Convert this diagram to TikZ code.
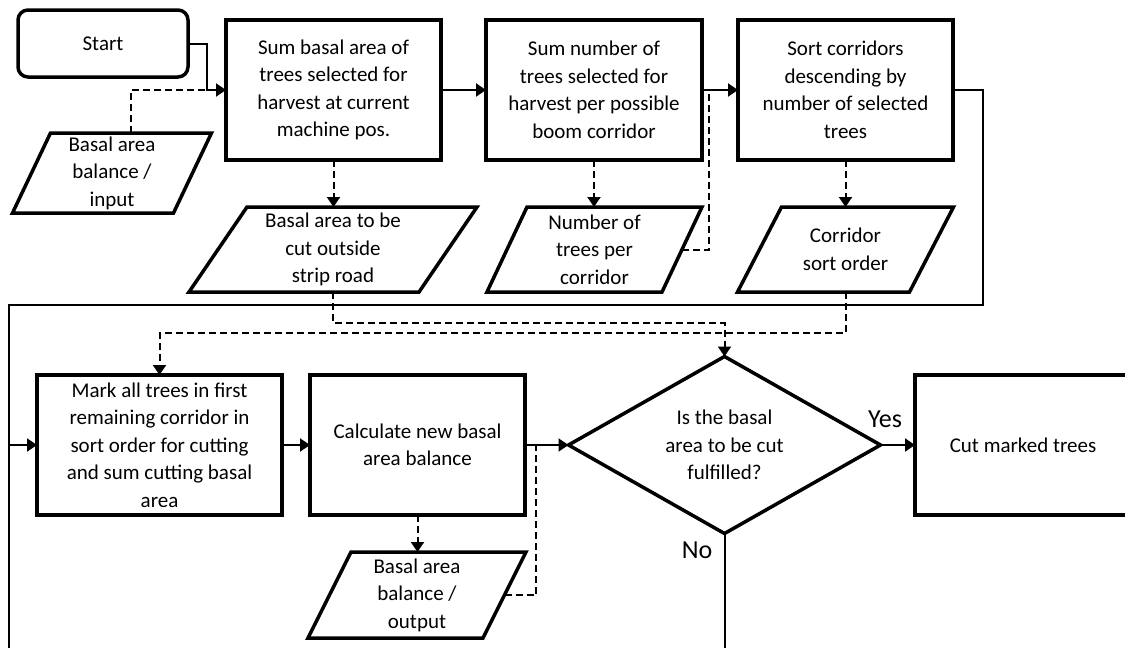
\documentclass[tikz,border=0pt]{standalone}
\usepackage{fontspec}
\setmainfont{Carlito}
\usetikzlibrary{arrows.meta,shapes.geometric,calc}
\newcommand\paraframe[2]{\draw[paraline] ($(#1.south west)+(-#2,0)$) -- ($(#1.south east)+(-#2,0)$) -- ($(#1.north east)+(#2,0)$) -- ($(#1.north west)+(#2,0)$) -- cycle;}
\begin{document}
\begin{tikzpicture}[x=1pt,y=-1pt,
  every node/.style={font=\fontsize{21}{27.5}\selectfont, align=center, inner sep=0pt, outer sep=0pt},
  box/.style={draw, line width=3.5pt, minimum width=215pt, minimum height=140pt},
  startbox/.style={draw, line width=3.5pt, rounded corners=10pt, minimum width=170pt, minimum height=67pt},
  decbox/.style={draw, diamond, line width=3.5pt, minimum width=312pt, minimum height=177pt, aspect=1.76},
  paraline/.style={line width=3.5pt, line join=miter},
  conn/.style={line width=2pt},
  dconn/.style={line width=2pt, dash pattern=on 7pt off 4pt},
  tip/.style={-{Triangle[length=10pt,width=13pt]}},
  lbl/.style={font=\fontsize{26}{30}\selectfont}
]
\useasboundingbox (0,0) rectangle (1125,648);
\fill[white] (0,0) rectangle (1125,648);
\clip (0,0) rectangle (1125,648);

% top row
\node[startbox] (start) at (103,43.5) {Start};
\node[box] (box1) at (333.5,90) {Sum basal area of\\trees selected for\\harvest at current\\machine pos.};
\node[box, minimum width=216pt] (box2) at (594,90) {Sum number of\\trees selected for\\harvest per possible\\boom corridor};
\node[box] (box3) at (845.5,90) {Sort corridors\\descending by\\number of selected\\trees};

% parallelograms
\node[minimum width=161pt, minimum height=80pt] (inp) at (112,173) {Basal area\\balance /\\input};
\paraframe{inp}{19}
\node[minimum width=230pt, minimum height=85pt] (bac) at (333,249.5) {Basal area to be\\cut outside\\strip road};
\paraframe{bac}{29}
\node[minimum width=175pt, minimum height=85pt] (num) at (594.5,249.5) {Number of\\trees per\\corridor};
\paraframe{num}{20}
\node[minimum width=172pt, minimum height=85pt] (cor) at (845.5,249.5) {Corridor\\sort order};
\paraframe{cor}{22}

% second row
\node[box, minimum width=245pt] (mark) at (159.5,445) {Mark all trees in first\\remaining corridor in\\sort order for cutting\\and sum cutting basal\\area};
\node[box] (calc) at (417.5,445) {Calculate new basal\\area balance};
\node[decbox] (dec) at (724.5,445) {Is the basal\\area to be cut\\fulfilled?};
\node[box, minimum width=216pt] (cut) at (1023,445) {Cut marked trees};
\node[minimum width=175pt, minimum height=86pt] (out) at (417,595) {Basal area\\balance /\\output};
\paraframe{out}{21.5}

% labels
\node[lbl] (yes) at (885,419) {Yes};
\node[lbl] (no) at (697,550) {No};

% junction coordinates
\coordinate (j1) at (207,90);
\coordinate (j2) at (709,90);
\coordinate (j3) at (536,445);
\coordinate (l1) at (983,305);
\coordinate (l2) at (9,305);

% solid connectors
\draw[conn,tip] (start.east) -| (j1) -- (box1.west);
\draw[conn,tip] (box1.east) -- (box2.west);
\draw[conn,tip] (box2.east) -- (box3.west);
\draw[conn,tip] (box3.east) -| (l1) -- (l2) |- (mark.west);
\draw[conn,tip] (mark.east) -- (calc.west);
\draw[conn,tip] (calc.east) -- (dec.west);
\draw[conn,tip] (dec.east) -- (cut.west);
\draw[conn] (dec.south) -- ++(0,130) -| (l2);

% dashed connectors
\draw[dconn] ($(inp.north)+(19,0)$) |- (j1);
\draw[dconn,tip] (box1.south) -- (box1.south |- bac.north);
\draw[dconn,tip] (box2.south) -- (box2.south |- num.north);
\draw[dconn,tip] (box3.south) -- (box3.south |- cor.north);
\draw[dconn] (num.east) -| (j2);
\draw[dconn,tip] (bac.south) -- ++(0,31) -| (dec.north);
\draw[dconn,tip] (cor.south) -- ++(0,41) -| (mark.north);
\draw[dconn,tip] (calc.south) -- (calc.south |- out.north);
\draw[dconn] (out.east) -| (j3);
\end{tikzpicture}
\end{document}
